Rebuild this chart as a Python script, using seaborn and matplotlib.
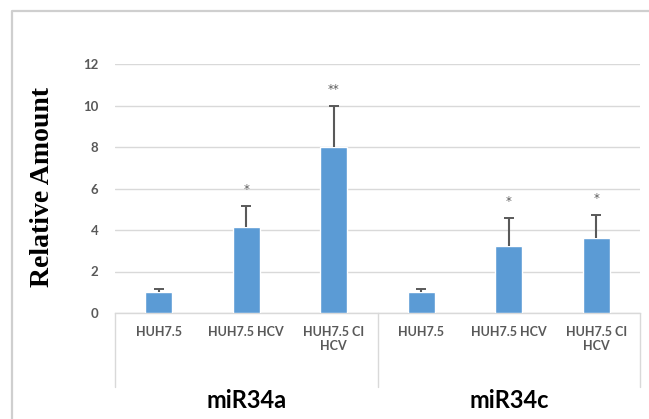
import matplotlib
matplotlib.use("Agg")
import matplotlib.pyplot as plt
import matplotlib.lines as mlines
import matplotlib.transforms as mtransforms
import seaborn as sns
import pandas as pd

# data
groups = ["miR34a", "miR34c"]
cells = ["HUH7.5", "HUH7.5 HCV", "HUH7.5 CI\nHCV"]
values_34a = [1.0, 4.13, 8.0]
values_34c = [1.0, 3.23, 3.6]
err_34a = [0.17, 1.04, 2.0]
err_34c = [0.17, 1.34, 1.13]
stars_34a = ["", "*", "**"]
stars_34c = ["", "*", "*"]
yticks = [0, 2, 4, 6, 8, 10, 12]

values = values_34a + values_34c
errs = err_34a + err_34c
stars = stars_34a + stars_34c
df = pd.DataFrame({
    "pos": list(range(len(values))),
    "value": values,
    "err": errs,
    "label": cells + cells,
})
df["top"] = df["value"] + df["err"]

sns.set_style("white")
plt.rcParams["font.family"] = ["Lato", "DejaVu Sans"]

fig = plt.figure(figsize=(6.49, 4.19), dpi=100)
ax = fig.add_axes([115 / 649, 1 - 313 / 419, (640 - 115) / 649, (313 - 64) / 419])

# outer frame of the chart area (only left and top edges are in view)
fx, fy = 12 / 649, 1 - 11 / 419
fig.add_artist(mlines.Line2D([fx, fx, 1.0], [0, fy, fy], transform=fig.transFigure,
                             color="#cfcfcf", lw=1.6, zorder=0))

sns.barplot(data=df, x="pos", y="value", color="#5b9bd5", width=0.31,
            saturation=1, ax=ax, zorder=3)

# upper-only error bars
cap = 0.055
ax.vlines(df["pos"], df["value"], df["top"], color="#595959", lw=1.5, zorder=4)
ax.hlines(df["top"], df["pos"] - cap, df["pos"] + cap, color="#595959", lw=1.4, zorder=4)

for p, t, s in zip(df["pos"], df["top"], stars):
    if s:
        ax.text(p, t + 0.78, s, ha="center", va="center", fontsize=8.5,
                color="#595959", family="DejaVu Sans")

ax.set_ylim(0, 12)
ax.set_xlim(-0.5, len(df) - 0.5)
ax.set_yticks(yticks)
ax.set_yticklabels([str(t) for t in yticks], fontsize=9.5, fontweight="bold", color="#595959")
ax.set_xticks(df["pos"])
ax.set_xticklabels(df["label"], fontsize=9, fontweight="bold", color="#595959",
                   linespacing=1.3, va="top")
ax.tick_params(axis="y", length=0, pad=12)
ax.tick_params(axis="x", length=0, pad=9)
ax.yaxis.grid(True, color="#d9d9d9", lw=1.0)
ax.set_axisbelow(True)
for side in ["top", "right", "left"]:
    ax.spines[side].set_visible(False)
ax.spines["bottom"].set_color("#d9d9d9")
ax.spines["bottom"].set_linewidth(1.0)
ax.set_xlabel("")
ax.set_ylabel("")
fig.text(43 / 649, 1 - 187 / 419, "Relative Amount", rotation=90, ha="center", va="center",
         fontsize=20, fontweight="bold", family="Liberation Serif", color="black")

# category box below the axis with group labels
trans = mtransforms.blended_transform_factory(ax.transData, ax.transAxes)
n = len(cells)
for b in [-0.5, n - 0.5, 2 * n - 0.5]:
    ax.plot([b, b], [0, -0.297], transform=trans, color="#d9d9d9", lw=1.0, clip_on=False)
for i, g in enumerate(groups):
    ax.text(i * n + (n - 1) / 2, -0.35, g, transform=trans, ha="center", va="center",
            fontsize=17, fontweight="bold", color="black")

fig.savefig("out.png", dpi=100)
